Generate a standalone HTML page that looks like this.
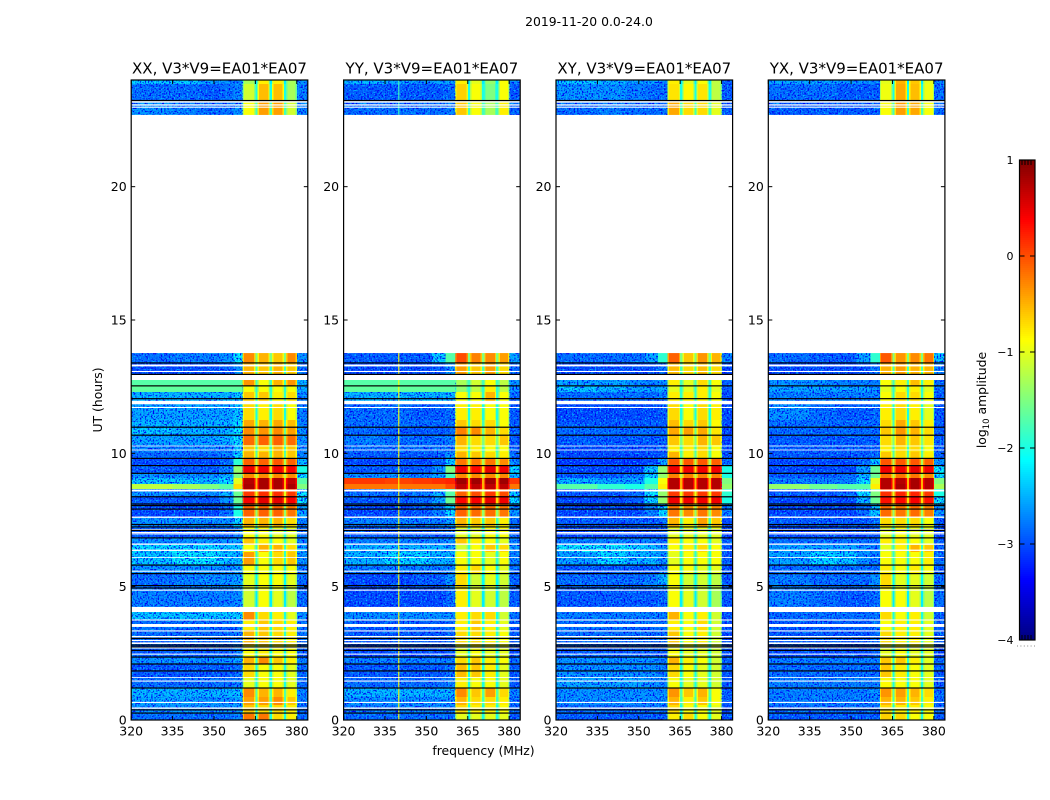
<!DOCTYPE html>
<html lang="en">
<head>
<meta charset="utf-8">
<title>2019-11-20 dynamic spectra</title>
<style>
html,body{margin:0;padding:0;background:#fff;}
svg{display:block;}
text{font-family:"DejaVu Sans","Liberation Sans",sans-serif;fill:#000;}
</style>
</head>
<body>
<svg id="fig" xmlns="http://www.w3.org/2000/svg" width="1050" height="800" viewBox="0 0 1050 800">
<defs>
<filter id="speck-dark" x="0" y="0" width="100%" height="100%" color-interpolation-filters="sRGB">
<feTurbulence type="fractalNoise" baseFrequency="0.62" numOctaves="1" seed="4"/>
<feColorMatrix type="matrix" values="0 0 0 0 0  0 0 0 0 0  0 0 0 0 0.95  5 0 0 0 -2.38"/>
</filter>
<filter id="speck-light" x="0" y="0" width="100%" height="100%" color-interpolation-filters="sRGB">
<feTurbulence type="fractalNoise" baseFrequency="0.62" numOctaves="1" seed="11"/>
<feColorMatrix type="matrix" values="0 0 0 0 0  0 0 0 0 0.72  0 0 0 0 1  0 5 0 0 -2.65"/>
</filter>
</defs>
<rect x="0" y="0" width="1050" height="800" fill="#fff"/>
<text x="589" y="26" font-size="12.4" text-anchor="middle">2019-11-20 0.0-24.0</text>
<text x="102" y="400" font-size="12.4" text-anchor="middle" transform="rotate(-90 102 400)">UT (hours)</text>
<text x="483.500" y="755" font-size="12.4" text-anchor="middle">frequency (MHz)</text>
<text x="986" y="400" font-size="12.4" text-anchor="middle" transform="rotate(-90 986 400)">log<tspan font-size="8.5" dy="3">10</tspan><tspan dy="-3"> amplitude</tspan></text>
<g id="panels"></g>
<g id="cbar"></g>
</svg>
<script>
// ---- axis data ----
const panelTitles = ["XX, V3*V9=EA01*EA07","YY, V3*V9=EA01*EA07","XY, V3*V9=EA01*EA07","YX, V3*V9=EA01*EA07"];
const freqTicks = [320,335,350,365,380];
const hourTicks = [0,5,10,15,20];
const colorbarTicks = [1,0,-1,-2,-3,-4];
// frequency columns (MHz): left continuum, then four sub-bands, then right edge
const freqEdges = [320,335,345,352,357,360.4,365,365.8,370.2,371,375.3,376.1,380.1,384];
// time rows (hours), top to bottom
const rowEdges = [24,23.85,23.25,22.69,13.76,13.39,12.75,12.53,12.3,11.85,11.25,10.99,10.65,10.31,10.05,9.83,9.53,9.26,9.08,8.85,8.66,8.4,8.1,7.61,7.24,6.86,6.56,6.3,5.81,5.51,4.95,4.24,4.05,3.75,3.38,2.81,2.36,2.1,1.61,1.2,0.86,0.56,0.23,0];
// log10 amplitude of the narrow band-gap channels per time row
const gapLevels = [-2.2,-2,-1.8,null,-1.5,-1.8,-1.8,-1.9,-1.9,-2,-1.8,-1.6,-1.5,-1.8,-1.7,-1.3,-0.7,-1.2,-0.5,-0.5,-1,-0.7,-1.4,-1.8,-2,-1.9,-1.9,-1.9,-2,-2.1,-2.2,-2.2,-2,-2,-1.9,-2,-1.9,-2,-2,-1.7,-1.8,-2,-2];
// log10 amplitude per time row: 5 left columns, 4 sub-bands, right edge
const valuesXX = [
[-2.3,-2.3,-2.5,-2.6,-2.7,-1.3,-0.8,-0.8,-1.3,-2.6],
[-2.8,-2.8,-2.9,-2.8,-2.7,-1.1,-0.55,-0.55,-1.3,-2.7],
[-2.6,-2.7,-2.8,-2.8,-2.6,-0.9,-0.4,-0.4,-1.1,-2.7],
null,
[-2.8,-2.7,-2.7,-2.6,-2.1,-0.3,-0.5,-0.6,-0.3,-2.6],
[-3,-3,-3,-2.9,-2.6,-0.5,-0.6,-0.5,-0.6,-2.8],
[-1.7,-1.7,-1.7,-1.7,-1.7,-0.35,-0.9,-0.5,-0.35,-2.4],
[-1.65,-1.65,-1.65,-1.65,-1.65,-0.9,-0.9,-0.9,-0.9,-2.5],
[-2.4,-2.4,-2.4,-2.4,-2.3,-0.6,-0.6,-0.8,-0.7,-2.7],
[-2.5,-2.5,-2.5,-2.5,-2.3,-0.7,-0.8,-0.7,-0.9,-2.7],
[-2.4,-2.4,-2.4,-2.4,-2.2,-0.45,-0.5,-0.45,-0.55,-2.7],
[-2.3,-2.4,-2.4,-2.4,-2.1,-0.3,-0.35,-0.3,-0.4,-2.6],
[-2.5,-2.5,-2.5,-2.4,-2.1,-0.15,-0.1,-0.1,-0.15,-2.6],
[-2.7,-2.7,-2.7,-2.7,-2.3,-0.6,-0.7,-0.5,-0.6,-2.7],
[-2.8,-2.8,-2.8,-2.7,-2.2,-0.5,-0.5,-0.5,-0.6,-2.7],
[-3,-3,-3,-2.8,-1.9,-0.1,-0.1,-0.05,-0.1,-2.4],
[-2.9,-2.9,-2.9,-2.7,-1.4,0.45,0.45,0.45,0.4,-2],
[-2.6,-2.6,-2.6,-2.4,-1.5,-0.3,-0.3,-0.3,-0.3,-2.2],
[-2.3,-2.3,-2.4,-2.2,-1,0.75,0.8,0.8,0.7,-1.7],
[-1.2,-1.3,-1.5,-1.7,-0.7,0.8,0.8,0.8,0.8,-1.5],
[-2.6,-2.6,-2.6,-2.4,-1.6,0.1,0.15,0.15,0.1,-2.1],
[-2.9,-2.9,-2.9,-2.6,-1.6,0.4,0.5,0.5,0.4,-2.1],
[-3,-3,-3,-2.8,-2,-0.1,-0.1,-0.1,-0.2,-2.5],
[-2.6,-2.6,-2.6,-2.6,-2.2,-0.5,-0.5,-0.5,-0.7,-2.7],
[-2.9,-2.9,-2.9,-2.9,-2.7,-0.9,-0.9,-1,-1,-2.8],
[-2.6,-2.6,-2.6,-2.6,-2.5,-0.6,-0.8,-0.9,-1,-2.7],
[-2.2,-2.2,-2.2,-2.3,-2.3,-0.9,-0.5,-0.5,-0.7,-2.5],
[-2.3,-2.1,-2.1,-2.3,-2.4,-0.4,-0.9,-0.7,-0.6,-2.6],
[-2.6,-2.6,-2.6,-2.6,-2.5,-0.9,-0.9,-0.9,-0.9,-2.7],
[-2.8,-2.7,-2.6,-2.6,-2.5,-1,-0.9,-0.9,-1,-2.8],
[-2.7,-2.7,-2.7,-2.7,-2.6,-1.1,-0.9,-1,-1.2,-2.8],
[-2.7,-2.7,-2.7,-2.7,-2.6,-1.1,-0.9,-1,-1.2,-2.8],
[-2.3,-2.3,-2.3,-2.3,-2.2,-0.3,-0.7,-0.8,-1,-2.6],
[-2.8,-2.8,-2.8,-2.8,-2.7,-0.8,-0.6,-0.7,-0.8,-2.8],
[-2.8,-2.8,-2.8,-2.8,-2.7,-0.5,-0.6,-0.7,-0.8,-2.8],
[-2.9,-2.9,-2.9,-2.9,-2.7,-0.9,-0.8,-0.9,-0.9,-2.9],
[-2.6,-2.6,-2.6,-2.6,-2.5,-0.5,-0.3,-0.6,-0.8,-2.7],
[-2.9,-2.9,-2.9,-2.9,-2.8,-0.7,-0.9,-0.9,-1,-2.8],
[-2.8,-2.8,-2.8,-2.8,-2.7,-1,-0.9,-0.9,-1,-2.8],
[-2.4,-2.4,-2.4,-2.4,-2.3,-0.3,-0.5,-0.5,-0.8,-2.7],
[-2.5,-2.5,-2.6,-2.6,-2.5,-0.4,-0.4,-0.3,-0.6,-2.7],
[-2.6,-2.6,-2.6,-2.6,-2.6,-0.6,-0.7,-0.7,-0.8,-2.8],
[-2.8,-2.8,-2.8,-2.8,-2.7,-0.2,-0.2,-0.7,-0.8,-2.8]
];
const valuesYY = [
[-2.4,-2.5,-2.6,-2.5,-2.5,-0.8,-1,-1.4,-0.9,-2.7],
[-2.9,-2.9,-2.9,-2.9,-2.8,-0.65,-0.9,-1.5,-0.9,-2.9],
[-2.8,-2.8,-2.8,-2.8,-2.7,-0.6,-0.9,-1.3,-0.8,-2.9],
null,
[-2.9,-2.9,-2.9,-2.3,-1.7,0,-0.25,-0.3,-0.4,-2.5],
[-3,-3,-3,-2.9,-2.6,-0.4,-0.6,-0.4,-0.7,-2.8],
[-1.7,-1.7,-1.7,-1.7,-1.7,-1.3,-1.1,-0.9,-1.2,-2.6],
[-1.65,-1.65,-1.65,-1.65,-1.65,-1.4,-1.2,-0.8,-1.2,-2.6],
[-2.4,-2.4,-2.4,-2.4,-2.4,-0.9,-0.9,-0.5,-0.9,-2.8],
[-2.8,-2.8,-2.9,-2.9,-2.8,-0.8,-0.8,-0.9,-0.9,-2.9],
[-2.8,-2.8,-2.8,-2.8,-2.8,-0.6,-0.7,-0.7,-0.9,-2.9],
[-2.8,-2.9,-2.9,-2.9,-2.8,-0.25,-0.3,-0.5,-0.7,-2.9],
[-2.7,-2.8,-2.8,-2.8,-2.7,-0.5,-0.7,-0.7,-0.6,-2.9],
[-2.8,-2.8,-2.8,-2.8,-2.8,-0.7,-0.8,-0.9,-0.9,-2.9],
[-2.9,-2.9,-2.9,-2.9,-2.6,-0.5,-0.6,-0.7,-0.8,-2.8],
[-3,-3,-3,-2.9,-2.3,-0.2,-0.2,-0.2,-0.3,-2.6],
[-2.9,-2.9,-2.9,-2.6,-1.5,0.45,0.35,0.5,0.45,-2.2],
[-2.6,-2.6,-2.7,-2.5,-1.8,-0.3,-0.3,-0.3,-0.3,-2.4],
[0.1,0.05,0.1,0.15,0.2,0.85,0.85,0.85,0.85,0.1],
[-0.2,-0.2,-0.2,-0.2,0,0.7,0.7,0.7,0.7,-0.2],
[-2.8,-2.8,-2.7,-2.4,-1.7,-0.1,0,0.1,0,-2.3],
[-2.9,-2.9,-2.8,-2.5,-1.6,0.35,0.4,0.5,0.45,-2.2],
[-3,-3,-2.9,-2.7,-2.2,-0.1,-0.15,-0.15,-0.2,-2.6],
[-2.7,-2.7,-2.7,-2.7,-2.5,-0.5,-0.6,-0.6,-0.8,-2.8],
[-2.9,-2.9,-2.9,-2.9,-2.8,-1,-1,-0.9,-0.9,-2.9],
[-2.7,-2.7,-2.7,-2.7,-2.6,-0.6,-0.8,-0.9,-1,-2.7],
[-2.4,-2.4,-2.4,-2.4,-2.5,-1.1,-0.9,-0.6,-0.7,-2.6],
[-2.4,-2.2,-2.2,-2.4,-2.4,-0.9,-0.9,-1,-0.9,-2.7],
[-2.7,-2.7,-2.7,-2.7,-2.7,-0.8,-0.7,-0.9,-1,-2.8],
[-3,-3,-2.9,-2.9,-2.6,-0.7,-1.1,-1,-1.1,-2.9],
[-3,-3,-3,-3,-2.8,-0.8,-1,-1.1,-1.2,-2.9],
[-3,-3,-3,-3,-2.8,-0.8,-1,-1.1,-1.2,-2.9],
[-2.6,-2.6,-2.6,-2.6,-2.6,-0.8,-0.7,-0.7,-1.1,-2.8],
[-2.9,-2.9,-2.9,-2.9,-2.8,-0.8,-0.6,-0.8,-1,-2.9],
[-2.9,-2.9,-2.9,-2.9,-2.8,-0.7,-0.7,-0.8,-0.9,-2.9],
[-3,-3,-3,-3,-2.9,-1,-0.9,-1,-1,-3],
[-2.7,-2.7,-2.7,-2.7,-2.7,-0.7,-0.6,-0.8,-0.9,-2.8],
[-2.9,-2.9,-2.9,-2.9,-2.8,-0.55,-0.6,-0.8,-1,-2.9],
[-2.8,-2.8,-2.8,-2.8,-2.7,-0.8,-0.9,-0.9,-1,-2.9],
[-2.4,-2.4,-2.4,-2.4,-2.4,-0.3,-0.6,-0.4,-0.7,-2.7],
[-2.6,-2.6,-2.6,-2.6,-2.6,-0.5,-0.7,-0.7,-0.8,-2.8],
[-2.7,-2.7,-2.7,-2.7,-2.7,-0.7,-0.8,-0.8,-0.9,-2.8],
[-2.8,-2.8,-2.8,-2.8,-2.8,-1,-1,-1,-1,-2.9]
];
const valuesXY = [
[-2.3,-2.4,-2.5,-2.5,-2.7,-0.8,-1,-0.9,-1.2,-2.9],
[-2.6,-2.6,-2.7,-2.8,-2.8,-0.75,-0.85,-0.75,-1.2,-2.9],
[-2.8,-2.7,-2.8,-2.8,-2.8,-0.45,-0.7,-0.7,-1,-2.9],
null,
[-2.8,-2.8,-2.8,-2.5,-1.9,-0.1,-0.6,-0.35,-0.5,-2.7],
[-3,-3,-3,-3,-2.8,-0.55,-0.7,-0.55,-0.7,-3],
[-2.5,-2.5,-2.6,-2.7,-2.6,-0.8,-1,-0.7,-0.9,-2.9],
[-2.3,-2.4,-2.5,-2.5,-2.5,-1,-1,-0.8,-1,-2.9],
[-2.8,-2.8,-2.8,-2.8,-2.7,-0.8,-0.8,-0.8,-0.9,-3],
[-3,-3,-3,-3,-2.9,-0.7,-0.9,-0.7,-0.8,-3],
[-2.9,-2.9,-2.9,-2.9,-2.9,-0.55,-0.7,-0.6,-0.85,-3],
[-2.8,-2.8,-2.8,-2.8,-2.8,-0.45,-0.4,-0.45,-0.75,-3],
[-2.9,-2.9,-2.9,-2.9,-2.9,-0.6,-0.7,-0.5,-0.6,-3],
[-3,-3,-3,-3,-2.9,-0.8,-0.8,-0.7,-0.9,-3],
[-3,-3,-3,-3,-2.9,-0.5,-0.8,-0.7,-0.9,-3],
[-3.1,-3.1,-3.1,-3,-2.5,-0.05,-0.05,-0.05,-0.1,-2.8],
[-3,-3,-3,-2.3,-1.4,0.45,0.45,0.45,0.45,-2],
[-2.9,-2.9,-2.7,-2.2,-1.4,-0.25,-0.25,-0.25,-0.25,-2],
[-2.4,-2.5,-2.5,-2,-0.9,0.75,0.75,0.75,0.75,-1.5],
[-1.7,-1.9,-2,-1.7,-0.8,0.75,0.75,0.75,0.75,-1.4],
[-2.9,-2.9,-2.8,-2.1,-1.4,0.1,0.1,0.1,0.1,-1.9],
[-3,-3,-2.9,-2.2,-1.4,0.45,0.45,0.45,0.45,-2],
[-3,-3,-3,-2.7,-2.2,-0.2,-0.3,-0.2,-0.3,-2.7],
[-2.9,-2.9,-2.9,-2.9,-2.8,-0.5,-0.8,-0.4,-0.6,-3],
[-3,-3,-3,-3,-2.9,-1,-1,-1,-1,-3],
[-2.7,-2.7,-2.7,-2.7,-2.8,-0.8,-0.9,-0.9,-1,-2.9],
[-2.1,-2.1,-2.2,-2.4,-2.6,-0.9,-0.8,-0.7,-0.9,-2.9],
[-2.5,-2.2,-2.4,-2.4,-2.6,-1,-0.9,-0.9,-0.9,-2.9],
[-2.9,-2.9,-2.9,-2.9,-2.8,-0.9,-0.9,-1,-1,-3],
[-2.8,-2.8,-2.8,-2.7,-2.4,-0.9,-1.1,-1.1,-1.2,-2.9],
[-2.9,-2.9,-2.9,-2.9,-2.8,-0.9,-1,-1.1,-1.3,-2.9],
[-2.9,-2.9,-2.9,-2.9,-2.8,-0.9,-1,-1.1,-1.3,-2.9],
[-2.7,-2.7,-2.7,-2.7,-2.7,-0.5,-0.9,-0.8,-1.1,-3],
[-2.8,-2.8,-2.8,-2.8,-2.8,-0.8,-0.9,-0.7,-1.1,-3],
[-2.8,-2.8,-2.8,-2.8,-2.8,-0.6,-0.9,-0.8,-1.1,-3],
[-2.9,-2.9,-2.9,-2.9,-2.9,-0.9,-1,-1,-1.1,-3],
[-2.6,-2.6,-2.6,-2.6,-2.7,-0.5,-0.8,-0.9,-1.1,-2.9],
[-2.6,-2.6,-2.6,-2.6,-2.7,-0.7,-0.9,-1,-1.1,-2.9],
[-2.5,-2.5,-2.5,-2.6,-2.7,-0.9,-1,-1,-1.1,-2.9],
[-2.6,-2.6,-2.6,-2.6,-2.6,-0.35,-0.6,-0.5,-0.9,-2.9],
[-2.6,-2.6,-2.6,-2.6,-2.6,-0.5,-0.8,-0.6,-0.9,-2.9],
[-2.8,-2.8,-2.8,-2.8,-2.8,-0.7,-0.9,-0.9,-1,-3],
[-2.9,-2.9,-2.9,-2.9,-2.9,-0.8,-0.7,-0.9,-1,-3]
];
const valuesYX = [
[-2.5,-2.5,-2.6,-2.6,-2.7,-1,-0.5,-0.6,-1,-2.7],
[-2.8,-2.8,-2.9,-2.9,-2.9,-0.95,-0.45,-0.55,-0.95,-2.8],
[-2.9,-2.9,-2.9,-2.9,-2.9,-0.9,-0.4,-0.45,-0.9,-2.8],
null,
[-2.8,-2.9,-2.9,-2.5,-1.9,-0.05,-0.35,-0.3,-0.2,-2.3],
[-3,-3,-3,-3,-2.7,-0.5,-0.4,-0.5,-0.5,-2.7],
[-2.6,-2.6,-2.7,-2.7,-2.7,-0.9,-0.8,-0.55,-0.8,-2.8],
[-2.5,-2.5,-2.5,-2.5,-2.6,-1,-0.9,-0.8,-1,-2.8],
[-2.7,-2.7,-2.7,-2.7,-2.7,-0.9,-0.7,-0.7,-0.9,-2.9],
[-2.6,-2.8,-2.9,-2.9,-2.8,-0.8,-0.7,-0.8,-1,-2.9],
[-2.8,-2.8,-2.8,-2.8,-2.8,-0.7,-0.45,-0.6,-0.8,-2.9],
[-2.8,-2.8,-2.8,-2.8,-2.8,-0.6,-0.35,-0.5,-0.7,-2.9],
[-2.9,-2.9,-2.9,-2.9,-2.9,-0.7,-0.5,-0.6,-0.75,-2.9],
[-2.9,-2.9,-2.9,-2.9,-2.9,-0.8,-0.7,-0.7,-0.9,-2.9],
[-2.9,-2.9,-2.9,-2.9,-2.8,-0.6,-0.7,-0.6,-0.8,-2.9],
[-3,-3,-3,-2.8,-2.3,-0.05,-0.05,-0.05,-0.1,-2.6],
[-3,-3,-3,-2.5,-1.6,0.45,0.45,0.5,0.45,-2.1],
[-2.9,-2.9,-2.8,-2.4,-1.6,-0.2,-0.2,-0.2,-0.3,-2.2],
[-2.7,-2.7,-2.7,-2.2,-1,0.75,0.75,0.8,0.75,-1.5],
[-1.4,-1.6,-1.7,-1.7,-0.8,0.75,0.8,0.8,0.75,-1.3],
[-2.9,-2.9,-2.8,-2.2,-1.5,0.15,0.2,0.2,0.1,-2],
[-3,-3,-3,-2.4,-1.6,0.3,0.35,0.4,0.3,-2.1],
[-3,-3,-3,-2.8,-2.3,-0.15,-0.2,-0.15,-0.25,-2.6],
[-2.9,-2.9,-2.9,-2.9,-2.8,-0.7,-0.7,-0.7,-0.9,-2.9],
[-3,-3,-3,-3,-2.9,-1,-0.9,-1,-1,-3],
[-2.8,-2.8,-2.8,-2.8,-2.8,-0.8,-0.8,-0.9,-1,-2.9],
[-2.5,-2.5,-2.5,-2.6,-2.7,-1,-0.8,-0.5,-0.6,-2.8],
[-2.5,-2.2,-2.3,-2.6,-2.7,-0.9,-0.9,-0.9,-0.8,-2.8],
[-2.8,-2.8,-2.8,-2.8,-2.8,-0.8,-0.9,-0.8,-0.9,-2.9],
[-2.7,-2.8,-2.8,-2.8,-2.6,-0.7,-1,-1,-1.1,-2.8],
[-2.7,-2.8,-2.9,-2.9,-2.8,-0.9,-0.9,-1,-1.2,-2.8],
[-2.7,-2.8,-2.9,-2.9,-2.8,-0.9,-0.9,-1,-1.2,-2.8],
[-2.8,-2.8,-2.8,-2.8,-2.8,-0.7,-0.9,-0.8,-1.1,-2.9],
[-2.9,-2.9,-2.9,-2.9,-2.8,-0.9,-0.8,-0.8,-1,-2.9],
[-2.9,-2.9,-2.9,-2.9,-2.8,-0.7,-0.8,-0.8,-1,-2.9],
[-3,-3,-3,-3,-2.9,-1,-0.9,-1,-1,-3],
[-2.7,-2.7,-2.7,-2.7,-2.7,-0.6,-0.6,-0.8,-1,-2.8],
[-2.8,-2.8,-2.8,-2.8,-2.8,-0.6,-0.8,-0.9,-1,-2.9],
[-2.7,-2.7,-2.7,-2.7,-2.7,-0.85,-0.9,-0.9,-1,-2.9],
[-2.7,-2.7,-2.7,-2.7,-2.6,-0.35,-0.4,-0.5,-0.7,-2.8],
[-2.7,-2.7,-2.7,-2.7,-2.7,-0.5,-0.5,-0.6,-0.8,-2.8],
[-2.8,-2.8,-2.8,-2.8,-2.8,-0.7,-0.8,-0.8,-0.9,-2.9],
[-2.9,-2.9,-2.9,-2.9,-2.9,-0.65,-0.7,-0.9,-0.9,-2.9]
];
const panelValues = [valuesXX,valuesYY,valuesXY,valuesYX];
// [low, high] hours with no data (white)
const gapSpans = [[13.76,22.69],[23.15,23.21],[23.04,23.09],[22.96,23],[13.26,13.33],[13.05,13.09],[12.75,12.94],[11.84,11.97],[11.7,11.74],[10.26,10.29],[10.11,10.14],[8.57,8.64],[7.58,7.63],[7.13,7.16],[7.01,7.05],[6.96,7],[6.57,6.62],[6.34,6.39],[6.08,6.11],[5.56,5.6],[4.85,4.89],[4.05,4.24],[3.73,3.77],[3.49,3.6],[3.32,3.36],[3.1,3.15],[2.96,3],[2.85,2.91],[2.68,2.74],[2.45,2.49],[1.58,1.61],[1.44,1.48],[0.64,0.68],[0.42,0.47]];
// hours of zero-amplitude (black) integrations
const zeroLines = [23.23,13.39,12.96,12.53,12.05,10.98,10.68,9.81,9.54,9.25,8.37,8.1,8.04,7.91,7.33,7.24,7.11,6.83,5.81,5.49,5.04,4.95,3.06,2.81,2.74,2.61,2.36,2.1,1.84,1.2,0.38,0.26];
// narrow interference line seen only in YY: frequency, level in the main block, level in the late block
const yyLineFreq = [340];
const yyLineLevel = [-0.9];
const yyLineLateLevel = [-1.8];
const bandEdgeDrop = [0.35];
// continuum cells brighter than this are smooth in the picture, so they sit above the noise grain
const smoothAbove = [-2.05];

// ---- geometry / scales ----
const NS = 'http://www.w3.org/2000/svg';
const panelLefts = [131.2,343.6,556,768.3];
const panelWidth = 176.6;
const plotTop = 80, plotBottom = 720;
const freqMin = 320, freqMax = 384, hourMin = 0, hourMax = 24;
function xScale(i,f){ return panelLefts[i] + (f-freqMin)/(freqMax-freqMin)*panelWidth; }
function yScale(h){ return plotBottom - (h-hourMin)/(hourMax-hourMin)*(plotBottom-plotTop); }
const cbarTop = 160, cbarBottom = 640, cbarLeft = 1019.5, cbarRight = 1035;
const levelMin = -4, levelMax = 1;
function cbarY(v){ return cbarBottom - (v-levelMin)/(levelMax-levelMin)*(cbarBottom-cbarTop); }
function clip01(a){ return Math.max(0,Math.min(1,a)); }
function jet(v){
  const t = clip01((v-levelMin)/(levelMax-levelMin));
  const r = clip01(1.5-Math.abs(4*t-3));
  const g = clip01(1.5-Math.abs(4*t-2));
  const b = clip01(1.5-Math.abs(4*t-1));
  return 'rgb('+Math.round(r*255)+','+Math.round(g*255)+','+Math.round(b*255)+')';
}
function make(parent,tag,attrs,txt){
  const el = document.createElementNS(NS,tag);
  for(const k in attrs){ el.setAttribute(k,attrs[k]); }
  if(txt!==undefined){ el.textContent = txt; }
  parent.appendChild(el);
  return el;
}
function drawCell(g,i,f0,f1,h0,h1,v){
  const x0 = xScale(i,f0), x1 = xScale(i,f1), y0 = yScale(h0), y1 = yScale(h1);
  const el = make(g,'rect',{x:x0,y:y0,width:x1-x0,height:y1-y0,fill:jet(v),'shape-rendering':'crispEdges'});
  
  
}

const root = document.getElementById('panels');
panelValues.forEach(function(values,i){
  const g = make(root,'g',{});
  
  
  const cells = make(g,'g',{});
  
  
  values.forEach(function(row,r){
    if(row===null){ return; }
    const h0 = rowEdges[r], h1 = rowEdges[r+1];
    // five continuum columns
    for(let c=0;c<5;c++){
      drawCell(cells,i,freqEdges[c],freqEdges[c+1],h0,h1,row[c]);
    }
    // four sub-bands separated by gaps; each sub-band rolls off at its edges
    for(let b=0;b<4;b++){
      const f0 = freqEdges[5+2*b], f1 = freqEdges[6+2*b], v = row[5+b];
      drawCell(cells,i,f0,f1,h0,h1,v-bandEdgeDrop[0]);
      drawCell(cells,i,f0+0.5,f1-0.5,h0,h1,v);
      if(b<3){
        drawCell(cells,i,f1,freqEdges[7+2*b],h0,h1,gapLevels[r]);
      }
    }
    drawCell(cells,i,freqEdges[12],freqEdges[13],h0,h1,row[9]);
  });
  // receiver-noise grain over the low-amplitude channels
  [[freqEdges[0],freqEdges[5]],[freqEdges[12],freqEdges[13]]].forEach(function(span){
    ['speck-dark','speck-light'].forEach(function(id){
      const s = make(g,'rect',{x:xScale(i,span[0]),y:plotTop,width:xScale(i,span[1])-xScale(i,span[0]),height:plotBottom-plotTop,fill:'#000',filter:'url(#'+id+')'});
      
      
    });
  });
  // bright continuum rows are smooth: repaint them above the grain
  const bright = make(g,'g',{});
  
  
  values.forEach(function(row,r){
    if(row===null){ return; }
    const h0 = rowEdges[r], h1 = rowEdges[r+1];
    for(let c=0;c<5;c++){
      if(row[c]>smoothAbove[0]){
        drawCell(bright,i,freqEdges[c],freqEdges[c+1],h0,h1,row[c]);
      }
    }
    if(row[9]>smoothAbove[0]){
      drawCell(bright,i,freqEdges[12],freqEdges[13],h0,h1,row[9]);
    }
  });
  if(i===1){
    const lx0 = xScale(i,yyLineFreq[0]-0.2), lx1 = xScale(i,yyLineFreq[0]+0.2);
    const main = make(g,'rect',{x:lx0,y:yScale(rowEdges[4]),width:lx1-lx0,height:plotBottom-yScale(rowEdges[4]),fill:jet(yyLineLevel[0])});
    
    
    const late = make(g,'rect',{x:lx0,y:plotTop,width:lx1-lx0,height:yScale(rowEdges[3])-plotTop,fill:jet(yyLineLateLevel[0])});
    
    
  }
  gapSpans.forEach(function(span){
    const el = make(g,'rect',{x:panelLefts[i],y:yScale(span[1]),width:panelWidth,height:yScale(span[0])-yScale(span[1]),fill:'#fff'});
    
    
  });
  zeroLines.forEach(function(h){
    const el = make(g,'rect',{x:panelLefts[i],y:yScale(h)-0.6,width:panelWidth,height:1.2,fill:'#000'});
    
    
  });
  // ticks + labels
  freqTicks.forEach(function(f){
    const x = xScale(i,f);
    const t1 = make(g,'line',{x1:x,x2:x,y1:plotBottom,y2:plotBottom-4,stroke:'#000','stroke-width':1});
    
    
    const t2 = make(g,'line',{x1:x,x2:x,y1:plotTop,y2:plotTop+4,stroke:'#000','stroke-width':1});
    
    
    const l = make(g,'text',{x:x,y:735.500,'font-size':12.5,'text-anchor':'middle'},String(f));
    
    
  });
  hourTicks.forEach(function(h){
    const y = yScale(h);
    const xl = panelLefts[i], xr = panelLefts[i]+panelWidth;
    const t1 = make(g,'line',{x1:xl,x2:xl+4,y1:y,y2:y,stroke:'#000','stroke-width':1});
    
    
    const t2 = make(g,'line',{x1:xr,x2:xr-4,y1:y,y2:y,stroke:'#000','stroke-width':1});
    
    
    const l = make(g,'text',{x:xl-4.500,y:y+4.500,'font-size':12.5,'text-anchor':'end'},String(h));
    
    
  });
  const frame = make(g,'rect',{x:panelLefts[i],y:plotTop,width:panelWidth,height:plotBottom-plotTop,fill:'none',stroke:'#000','stroke-width':1.2});
  
  
  const title = make(g,'text',{x:panelLefts[i]+panelWidth/2,y:73.500,'font-size':15,'text-anchor':'middle'},panelTitles[i]);
  
  
});

// ---- colorbar ----
const cbar = document.getElementById('cbar');
for(let k=0;k<240;k++){
  const lo = levelMin + k*(levelMax-levelMin)/240;
  const hi = levelMin + (k+1)*(levelMax-levelMin)/240;
  const el = make(cbar,'rect',{x:cbarLeft,y:cbarY(hi),width:cbarRight-cbarLeft,height:cbarY(lo)-cbarY(hi),fill:jet((lo+hi)/2),'shape-rendering':'crispEdges'});
  
  
}
colorbarTicks.forEach(function(v){
  const y = cbarY(v);
  const t1 = make(cbar,'line',{x1:cbarLeft,x2:cbarLeft+5,y1:y,y2:y,stroke:'#000','stroke-width':1});
  
  
  const t2 = make(cbar,'line',{x1:cbarRight,x2:cbarRight-5,y1:y,y2:y,stroke:'#000','stroke-width':1});
  
  
  const l = make(cbar,'text',{x:1013.500,y:y+4,'font-size':11,'text-anchor':'end'},String(v).replace('-','\u2212'));
  
  
});
[1022,1025,1028,1031].forEach(function(x){
  const a = make(cbar,'line',{x1:x,x2:x,y1:cbarTop,y2:cbarTop+5,stroke:'#000','stroke-width':1});
  
  
  const b = make(cbar,'line',{x1:x,x2:x,y1:cbarBottom,y2:cbarBottom-5,stroke:'#000','stroke-width':1});
  
  
});
const cframe = make(cbar,'rect',{x:cbarLeft,y:cbarTop,width:cbarRight-cbarLeft,height:cbarBottom-cbarTop,fill:'none',stroke:'#000','stroke-width':1.2});


const dots = make(cbar,'line',{x1:1017,x2:1035,y1:646,y2:646,stroke:'#888','stroke-width':1,'stroke-dasharray':'1 2.4'});


</script>
</body>
</html>
